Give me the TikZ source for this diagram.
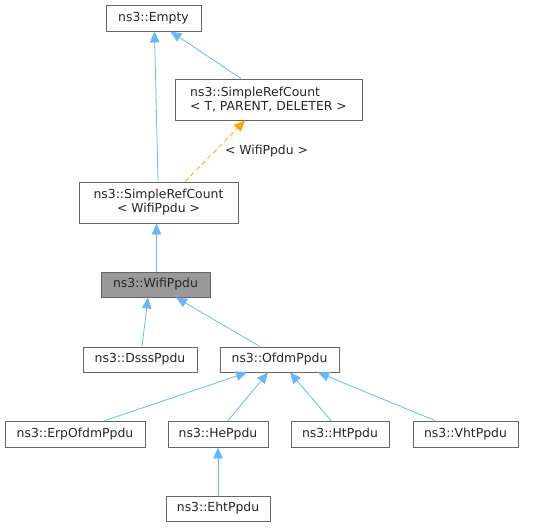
\documentclass[tikz,border=0pt]{standalone}
\usepackage{fontspec}
\setmainfont{DejaVu Sans}
\usetikzlibrary{arrows.meta}
\definecolor{edgeblue}{HTML}{63B8FF}
\definecolor{edgeorange}{HTML}{FFA500}
\definecolor{boxborder}{HTML}{666666}
\definecolor{boxgray}{HTML}{999999}
\tikzset{
  cls/.style={draw=boxborder, line width=0.9pt, fill=white, inner sep=0pt,
    font=\fontsize{12.4}{14}\selectfont, text=black!85, align=center},
  inh/.style={draw=edgeblue, line width=0.8pt,
    -{Triangle[length=11pt,width=9.5pt,fill=edgeblue]}},
  tmpl/.style={draw=edgeorange, line width=0.8pt, dash pattern=on 5pt off 3pt,
    -{Triangle[length=11pt,width=9.5pt,fill=edgeorange]}},
  lbl/.style={font=\fontsize{12.4}{14}\selectfont, text=black!85, inner sep=0pt}
}
\begin{document}
\begin{tikzpicture}[x=1pt,y=-1pt]
\useasboundingbox (0,0) rectangle (535,527);
\node[cls, minimum width=95pt, minimum height=26pt] (empty) at (153.5,18) {ns3::Empty};
\node[cls, minimum width=187pt, minimum height=41pt, align=left] (srcT) at (268.5,99.5) {ns3::SimpleRefCount\\< T, PARENT, DELETER >};
\node[cls, minimum width=159pt, minimum height=41pt] (srcW) at (158.5,202.5) {ns3::SimpleRefCount\\< WifiPpdu >};
\node[cls, fill=boxgray, minimum width=109pt, minimum height=25pt] (wifi) at (155.5,284.5) {ns3::WifiPpdu};
\node[cls, minimum width=114pt, minimum height=25pt] (dsss) at (140,359.5) {ns3::DsssPpdu};
\node[cls, minimum width=119pt, minimum height=25pt] (ofdm) at (279.5,359.5) {ns3::OfdmPpdu};
\node[cls, minimum width=140pt, minimum height=26pt] (erp) at (75,434) {ns3::ErpOfdmPpdu};
\node[cls, minimum width=100pt, minimum height=26pt] (he) at (218,434) {ns3::HePpdu};
\node[cls, minimum width=98pt, minimum height=26pt] (ht) at (340,434) {ns3::HtPpdu};
\node[cls, minimum width=105pt, minimum height=26pt] (vht) at (465.5,434) {ns3::VhtPpdu};
\node[cls, minimum width=104pt, minimum height=25pt] (eht) at (218,508.5) {ns3::EhtPpdu};
\node[lbl] (tlabel) at (266.5,151) {< WifiPpdu >};

\draw[inh] ([xshift=-0.5pt]srcW.north) -- ([xshift=1pt]empty.south);
\draw[inh] ([xshift=-27.5pt]srcT.north) -- ([xshift=17pt]empty.south);
\draw[tmpl] ([xshift=26.5pt]srcW.north) -- ([xshift=-23.5pt]srcT.south);
\draw[inh] ([xshift=1pt]wifi.north) -- ([xshift=-2pt]srcW.south);
\draw[inh] ([xshift=2pt]dsss.north) -- ([xshift=-7.5pt]wifi.south);
\draw[inh] ([xshift=-19.5pt]ofdm.north) -- ([xshift=20.5pt]wifi.south);
\draw[inh] ([xshift=30pt]erp.north) -- ([xshift=-32.5pt]ofdm.south);
\draw[inh] ([xshift=10pt]he.north) -- ([xshift=-11.5pt]ofdm.south);
\draw[inh] ([xshift=-9pt]ht.north) -- ([xshift=10.5pt]ofdm.south);
\draw[inh] ([xshift=-30.5pt]vht.north) -- ([xshift=38.5pt]ofdm.south);
\draw[inh] (eht.north) -- (he.south);
\end{tikzpicture}
\end{document}
